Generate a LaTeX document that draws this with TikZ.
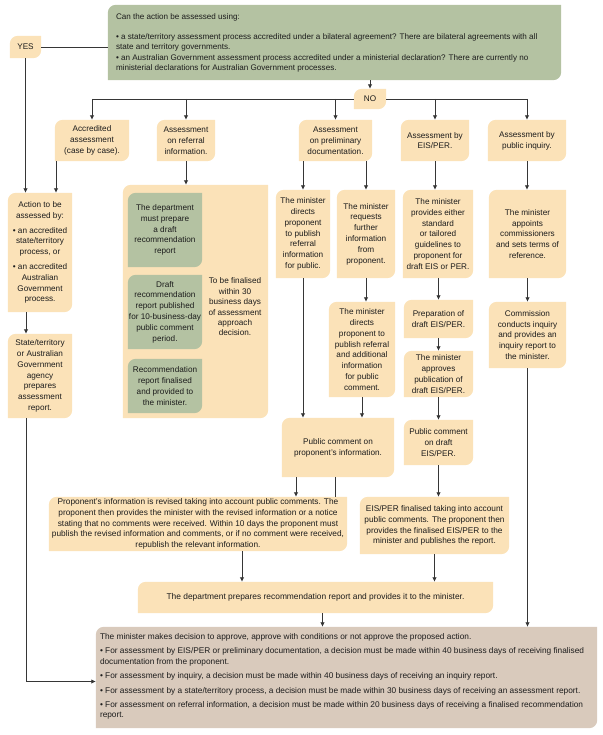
\documentclass[tikz,border=0pt]{standalone}
\usepackage{fontspec}
\setmainfont{Liberation Sans}
\usetikzlibrary{arrows.meta,backgrounds}
\definecolor{beige}{HTML}{FBE2B8}
\definecolor{sage}{HTML}{B4C2A2}
\definecolor{taupe}{HTML}{D9CABC}
\definecolor{ink}{HTML}{1C1C1C}
\definecolor{wire}{HTML}{363636}
\newcommand\leafbox[2]{\fill[#2] (#1.south west) -- ([yshift=-8pt]#1.north west) to[out=90,in=180] ([xshift=8pt]#1.north west) -- (#1.north east) -- ([yshift=8pt]#1.south east) to[out=-90,in=0] ([xshift=-8pt]#1.south east) -- cycle;}
\tikzset{
 box/.style={inner sep=0pt, align=center, text=ink, font=\fontsize{8.2}{10.8}\selectfont},
 sz/.style 2 args={minimum width=#1, minimum height=#2},
 lefttext/.style={inner sep=0pt, align=left, text=ink, anchor=west},
 arr/.style={draw=wire, line width=0.8pt, -{Latex[length=4.5pt,width=4.5pt]}},
 ln/.style={draw=wire, line width=0.8pt},
}
\begin{document}
\begin{tikzpicture}[x=1pt,y=-1pt]
\useasboundingbox (0,0) rectangle (602,735);
% top question
\node[box, sz={453pt}{75pt}] (top) at (334.5,42.5) {};
\node[lefttext, font=\fontsize{8.1}{10}\selectfont] (toptext) at ([xshift=8pt,yshift=0pt]top.west)
 {Can the action be assessed using:\\[10pt]
 • a state/territory assessment process accredited under a bilateral agreement? There are bilateral agreements with all\\
 state and territory governments.\\[1pt]
 • an Australian Government assessment process accredited under a ministerial declaration? There are currently no\\
 ministerial declarations for Australian Government processes.};
\node[box, sz={31pt}{22pt}] (yes) at (25.5,47) {YES};
\node[box, sz={32pt}{20pt}] (no) at (370,99) {NO};
% first row
\node[box, sz={74pt}{41pt}] (acc) at (92,140.5) {Accredited\\assessment\\(case by case).};
\node[box, sz={58pt}{41pt}] (refi) at (186,140.5) {Assessment\\on referral\\information.};
\node[box, sz={73pt}{41pt}] (prelim) at (335.5,140.5) {Assessment\\on preliminary\\documentation.};
\node[box, sz={68pt}{41pt}] (eis) at (435,140.5) {Assessment by\\EIS/PER.};
\node[box, sz={78pt}{41pt}] (inq) at (527,140.5) {Assessment by\\public inquiry.};
% left column
\node[box, sz={64pt}{119pt}] (act) at (40,252.5) {Action to be\\assessed by:\\[4pt]• an accredited\\state/territory\\process, or\\[4pt]• an accredited\\Australian\\Government\\process.};
\node[box, sz={64pt}{84pt}] (state) at (40,376) {State/territory\\or Australian\\Government\\agency\\prepares\\assessment\\report.};
% referral block
\node[box, sz={145pt}{233pt}] (refb) at (195.5,301.5) {};
\node[box, sz={74pt}{74pt}] (g1) at (165,230) {The department\\must prepare\\a draft\\recommendation\\report};
\node[box, sz={74pt}{74pt}] (g2) at (165,312) {Draft\\recommendation\\report published\\for 10-business-day\\public comment\\period.};
\node[box, sz={74pt}{54pt}] (g3) at (165,386) {Recommendation\\report finalised\\and provided to\\the minister.};
\node[box, font=\fontsize{8.2}{10.4}\selectfont] (tbf) at (235,307) {To be finalised\\within 30\\business days\\of assessment\\approach\\decision.};
% second row
\node[box, sz={54pt}{88pt}] (md) at (303,234) {The minister\\directs\\proponent\\to publish\\referral\\information\\for public.};
\node[box, sz={58pt}{88pt}] (mr) at (366,234) {The minister\\requests\\further\\information\\from\\proponent.};
\node[box, sz={70pt}{88pt}] (mp) at (438,234) {The minister\\provides either\\standard\\or tailored\\guidelines to\\proponent for\\draft EIS or PER.};
\node[box, sz={77pt}{88pt}] (ma) at (527.5,234) {The minister\\appoints\\commissioners\\and sets terms of\\reference.};
% third row
\node[box, sz={66pt}{95pt}] (md2) at (362,349.5) {The minister\\directs\\proponent to\\publish referral\\and additional\\information\\for public\\comment.};
\node[box, sz={69pt}{38pt}] (prep) at (438.5,319) {Preparation of\\draft EIS/PER.};
\node[box, sz={69pt}{46pt}] (appr) at (438.5,374) {The minister\\approves\\publication of\\draft EIS/PER.};
\node[box, sz={77pt}{66pt}] (comm) at (527.5,335) {Commission\\conducts inquiry\\and provides an\\inquiry report to\\the minister.};
% fourth row
\node[box, sz={112pt}{59pt}] (pc) at (338,447.5) {Public comment on\\proponent's information.};
\node[box, sz={69pt}{45pt}] (pce) at (438.5,442.5) {Public comment\\on draft\\EIS/PER.};
% fifth row
\node[box, sz={298pt}{54pt}, font=\fontsize{8.3}{10.6}\selectfont] (prop) at (198,524) {Proponent's information is revised taking into account public comments. The\\proponent then provides the minister with the revised information or a notice\\stating that no comments were received. Within 10 days the proponent must\\publish the revised information and comments, or if no comment were received,\\republish the relevant information.};
\node[box, sz={149pt}{57pt}, font=\fontsize{8.3}{10.8}\selectfont] (eisf) at (434.5,525.5) {EIS/PER finalised taking into account\\public comments. The proponent then\\provides the finalised EIS/PER to the\\minister and publishes the report.};
\node[box, sz={355pt}{31pt}, font=\fontsize{8.4}{10.8}\selectfont] (dept) at (315.5,597.5) {The department prepares recommendation report and provides it to the minister.};
% final decision
\node[box, sz={501pt}{101pt}] (fin) at (346.5,677.5) {};
\node[lefttext, font=\fontsize{8.3}{10.4}\selectfont] (fintext) at ([xshift=4pt,yshift=1pt]fin.west)
 {The minister makes decision to approve, approve with conditions or not approve the proposed action.\\[4pt]
 • For assessment by EIS/PER or preliminary documentation, a decision must be made within 40 business days of receiving finalised\\
 documentation from the proponent.\\[4pt]
 • For assessment by inquiry, a decision must be made within 40 business days of receiving an inquiry report.\\[4pt]
 • For assessment by a state/territory process, a decision must be made within 30 business days of receiving an assessment report.\\[4pt]
 • For assessment on referral information, a decision must be made within 20 business days of receiving a finalised recommendation\\
 report.};
% backgrounds
\begin{scope}[on background layer]
\foreach \n/\c in {top/sage,yes/beige,no/beige,acc/beige,refi/beige,prelim/beige,eis/beige,inq/beige,act/beige,state/beige,refb/beige,g1/sage,g2/sage,g3/sage,md/beige,mr/beige,mp/beige,ma/beige,md2/beige,prep/beige,appr/beige,comm/beige,pc/beige,pce/beige,prop/beige,eisf/beige,dept/beige,fin/taupe}{\leafbox{\n}{\c}}
\end{scope}
% connectors
\draw[ln] (yes.east) -- (yes.east -| top.west);
\draw[arr] (yes.south) -- (yes.south |- act.north);
\draw[arr] (no.north |- top.south) -- (no.north);
\draw[ln] (no.west) -- (acc.north |- no.west);
\draw[ln] (no.east) -- (inq.north |- no.east);
\foreach \n in {acc,refi,prelim}{\draw[arr] (\n.north |- no.west) -- (\n.north);}
\foreach \n in {eis,inq}{\draw[arr] (\n.north |- no.east) -- (\n.north);}
\draw[arr] ([xshift=-36pt]acc.south) -- ([xshift=-36pt]acc.south |- act.north);
\draw[arr] (refi.south) -- (refi.south |- refb.north);
\draw[arr] ([xshift=-14pt]act.south) -- ([xshift=-14pt]act.south |- state.north);
\draw[arr] ([xshift=-14pt]state.south) |- ([yshift=-4pt]fin.west);
\draw[arr] (md.north |- prelim.south) -- (md.north);
\draw[arr] (mr.north |- prelim.south) -- (mr.north);
\draw[arr] (eis.south) -- (eis.south |- mp.north);
\draw[arr] (inq.south) -- (inq.south |- ma.north);
\draw[arr] (md.south) -- (md.south |- pc.north);
\draw[arr] (mr.south) -- (mr.south |- md2.north);
\draw[arr] (md2.south) -- (md2.south |- pc.north);
\draw[arr] (prep.north |- mp.south) -- (prep.north);
\draw[arr] (prep.south) -- (appr.north);
\draw[arr] (appr.south) -- (pce.north);
\draw[arr] (ma.south) -- (comm.north);
\draw[arr] ([xshift=-42pt]pc.south) -- ([xshift=-42pt]pc.south |- prop.north);
\draw[ln] ([xshift=-3pt]pc.south) -- ([xshift=-3pt]pc.south |- prop.north);
\draw[arr] (pce.south) -- (pce.south |- eisf.north);
\draw[arr] ([xshift=44pt]prop.south) -- ([xshift=44pt]prop.south |- dept.north);
\draw[arr] (eisf.south) -- (eisf.south |- dept.north);
\draw[arr] ([xshift=7pt]dept.south) -- ([xshift=7pt]dept.south |- fin.north);
\draw[arr] (comm.south) -- (comm.south |- fin.north);
\end{tikzpicture}
\end{document}
